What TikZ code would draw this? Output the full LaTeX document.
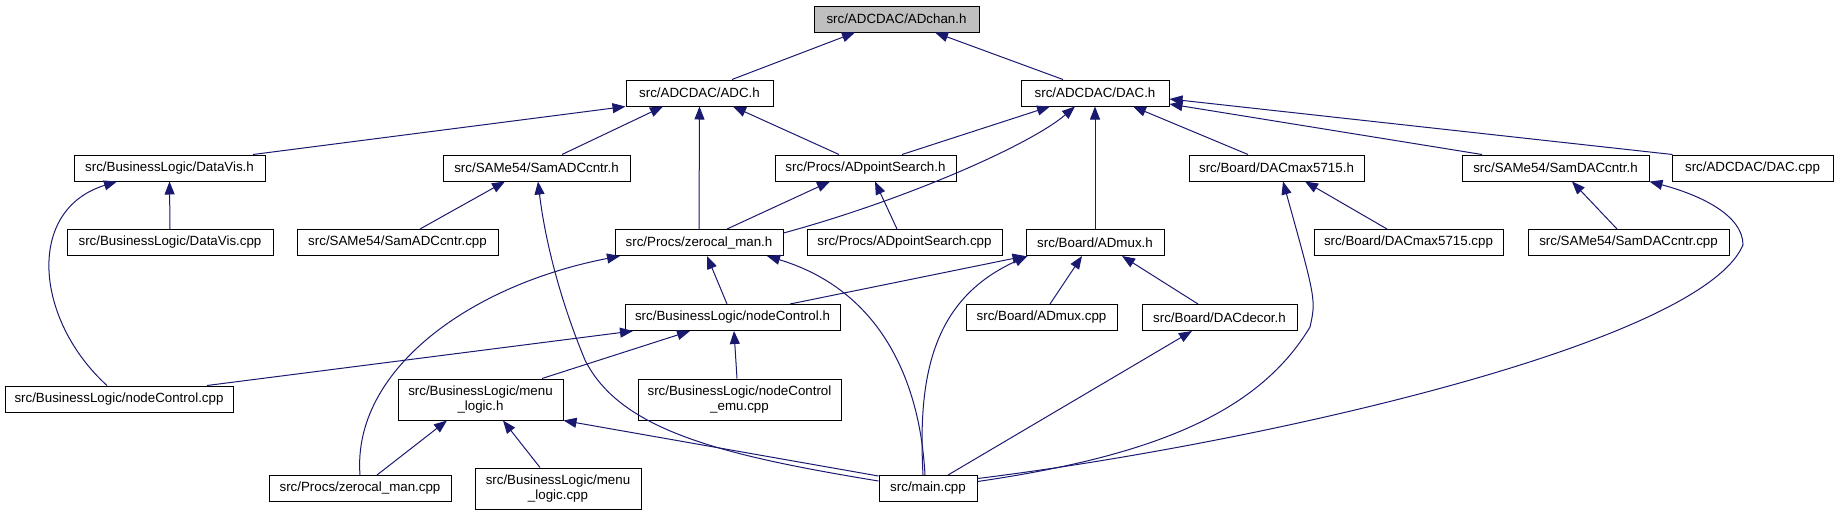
\documentclass[tikz,border=0pt]{standalone}
\usepackage{fontspec}
\setmainfont{Liberation Sans}
\usetikzlibrary{arrows.meta}
\definecolor{edgeblue}{HTML}{191970}

\begin{document}
\begin{tikzpicture}[
  x=1pt, y=-1pt,
  file/.style={draw, line width=1pt, fill=white, inner sep=0pt, minimum height=26pt, font=\fontsize{13.33}{15}\selectfont},
  file2/.style={file, minimum height=41pt, align=center},
  root/.style={file, fill=black!25},
  inc/.style={edgeblue, line width=1pt, -{Triangle[length=13pt, width=10pt]}}
]
  \useasboundingbox (0,0) rectangle (1838,515);

  \node[root, minimum width=165pt] (adchan) at (896.5,19) {src/ADCDAC/ADchan.h};
  \node[file, minimum width=147pt] (adc) at (699.5,93) {src/ADCDAC/ADC.h};
  \node[file, minimum width=148pt] (dac) at (1095,93) {src/ADCDAC/DAC.h};
  \node[file, minimum width=191pt] (datavis) at (169.5,168) {src/BusinessLogic/DataVis.h};
  \node[file, minimum width=187pt] (samadc) at (536.5,168) {src/SAMe54/SamADCcntr.h};
  \node[file, minimum width=181pt] (adpoint) at (865.5,168) {src/Procs/ADpointSearch.h};
  \node[file, minimum width=175pt] (dacmax) at (1276.5,168) {src/Board/DACmax5715.h};
  \node[file, minimum width=187pt] (samdac) at (1555.5,168) {src/SAMe54/SamDACcntr.h};
  \node[file, minimum width=161pt] (daccpp) at (1752.5,168) {src/ADCDAC/DAC.cpp};
  \node[file, minimum width=206pt] (dataviscpp) at (170,242.5) {src/BusinessLogic/DataVis.cpp};
  \node[file, minimum width=201pt] (samadccpp) at (397.5,242.5) {src/SAMe54/SamADCcntr.cpp};
  \node[file, minimum width=168pt] (zerocal) at (699,242.5) {src/Procs/zerocal\_man.h};
  \node[file, minimum width=195pt] (adpointcpp) at (904.5,242.5) {src/Procs/ADpointSearch.cpp};
  \node[file, minimum width=138pt] (admux) at (1095,242.5) {src/Board/ADmux.h};
  \node[file, minimum width=189pt] (dacmaxcpp) at (1408.5,242.5) {src/Board/DACmax5715.cpp};
  \node[file, minimum width=201pt] (samdaccpp) at (1628.5,242.5) {src/SAMe54/SamDACcntr.cpp};
  \node[file, minimum width=215pt] (nodectl) at (732.5,317.5) {src/BusinessLogic/nodeControl.h};
  \node[file, minimum width=151pt] (admuxcpp) at (1041.5,317.5) {src/Board/ADmux.cpp};
  \node[file, minimum width=155pt] (dacdecor) at (1219.5,317.5) {src/Board/DACdecor.h};
  \node[file, minimum width=228pt] (nodectlcpp) at (119,399) {src/BusinessLogic/nodeControl.cpp};
  \node[file2, minimum width=165pt] (menu) at (480.5,399.5) {src/BusinessLogic/menu\\\_logic.h};
  \node[file2, minimum width=203pt] (nodectlemu) at (739.5,399.5) {src/BusinessLogic/nodeControl\\\_emu.cpp};
  \node[file, minimum width=182pt] (zerocalcpp) at (360,488.5) {src/Procs/zerocal\_man.cpp};
  \node[file2, minimum width=166pt] (menucpp) at (558,488.5) {src/BusinessLogic/menu\\\_logic.cpp};
  \node[file, minimum width=98pt] (main) at (928,488.5) {src/main.cpp};

  \draw[inc] ([xshift=32.5pt]adc.north) -- ([xshift=-41.5pt]adchan.south);
  \draw[inc] ([xshift=-32pt]dac.north) -- ([xshift=38.5pt]adchan.south);
  \draw[inc] ([xshift=83.5pt]datavis.north) -- (adc.south west);
  \draw[inc] ([xshift=25.5pt]samadc.north) -- ([xshift=-36.5pt]adc.south);
  \draw[inc] (zerocal.north) -- (adc.south);
  \draw[inc] ([xshift=-26.5pt]adpoint.north) -- ([xshift=33.5pt]adc.south);
  \draw[inc] ([xshift=36.5pt]adpoint.north) -- ([xshift=-45pt]dac.south);
  \draw[inc] ([xshift=28pt]zerocal.north) -- ([xshift=-35.5pt]adpoint.south);
  \draw[inc] ([xshift=-7.5pt]adpointcpp.north) -- ([xshift=9.5pt]adpoint.south);
  \draw[inc] ([yshift=-4pt]zerocal.north east) .. controls (905,200) and (1030,145) .. ([xshift=-20pt]dac.south);
  \draw[inc] (admux) -- (dac);
  \draw[inc] ([xshift=-28.5pt]dacmax.north) -- ([xshift=38pt]dac.south);
  \draw[inc] ([xshift=-73.5pt]samdac.north) -- ([yshift=-11pt]dac.east);
  \draw[inc] ([xshift=1pt]daccpp.north west) -- ([yshift=-6pt]dac.east);
  \draw[inc] (dataviscpp.north) -- (datavis.south);
  \draw[inc] ([xshift=22.5pt]samadccpp.north) -- ([xshift=-31.5pt]samadc.south);
  \draw[inc] ([xshift=-21.5pt]dacmaxcpp.north) -- ([xshift=28.5pt]dacmax.south);
  \draw[inc] ([xshift=-11.5pt]samdaccpp.north) -- ([xshift=16.5pt]samdac.south);
  \draw[inc] ([xshift=-12pt]nodectlcpp.north) .. controls (35,320) and (25,210) .. ([xshift=-52.5pt]datavis.south);
  \draw[inc] ([xshift=-5.5pt]nodectl.north) -- ([xshift=8pt]zerocal.south);
  \draw[inc] ([xshift=57.5pt]nodectl.north) -- (admux.south west);
  \draw[inc] ([xshift=8.5pt]admuxcpp.north) -- ([xshift=-13pt]admux.south);
  \draw[inc] ([xshift=-21.5pt]dacdecor.north) -- ([xshift=27pt]admux.south);
  \draw[inc] ([xshift=88pt]nodectlcpp.north) -- ([xshift=-99.5pt]nodectl.south);
  \draw[inc] ([xshift=61.5pt]menu.north) -- ([xshift=-42.5pt]nodectl.south);
  \draw[inc] ([xshift=-2.5pt]nodectlemu.north) -- ([xshift=1.5pt]nodectl.south);
  \draw[inc] (zerocalcpp.north) .. controls (352,370) and (470,285) .. ([xshift=-79pt]zerocal.south);
  \draw[inc] ([xshift=17pt]zerocalcpp.north) -- ([xshift=-33.5pt]menu.south);
  \draw[inc] ([xshift=-18pt]menucpp.north) -- ([xshift=22.5pt]menu.south);
  \draw[inc] ([yshift=-1pt]main.north west) -- (menu.south east);
  \draw[inc] ([yshift=7.5pt]main.west) .. controls (720,455) and (620,430) .. (585,360) .. controls (560,300) and (545,240) .. ([xshift=1.5pt]samadc.south);
  \draw[inc] ([xshift=-3pt]main.north) .. controls (920,380) and (880,290) .. ([xshift=68pt]zerocal.south);
  \draw[inc] ([xshift=-5pt]main.north) .. controls (918,380) and (930,300) .. ([xshift=2pt]admux.south west);
  \draw[inc] ([xshift=20pt]main.north) -- ([xshift=-27.5pt]dacdecor.south);
  \draw[inc] ([yshift=7pt]main.east) .. controls (1160,455) and (1260,410) .. (1310,327) .. controls (1316,300) .. ([xshift=6.5pt]dacmax.south);
  \draw[inc] ([yshift=10pt]main.east) .. controls (1250,445) and (1700,345) .. (1743,245) .. controls (1743,215) and (1700,195) .. (samdac.south east);
\end{tikzpicture}
\end{document}
